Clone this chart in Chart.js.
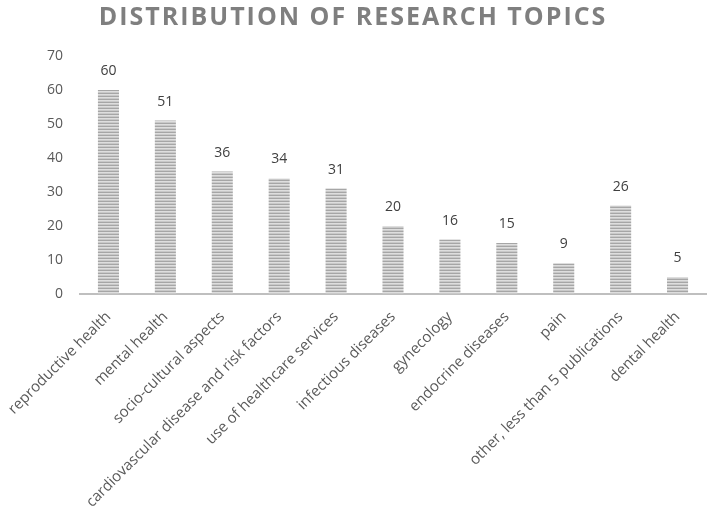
<!DOCTYPE html>
<html>
<head>
<meta charset="utf-8">
<script src="https://cdn.jsdelivr.net/npm/chart.js@4/dist/chart.umd.min.js"></script>
<style>
  html, body { margin: 0; padding: 0; background: #ffffff; }
  #wrap { width: 709px; height: 518px; }
</style>
</head>
<body>
<div id="wrap"><canvas id="c" width="709" height="518"></canvas></div>
<script>
const categories = [
  "reproductive health",
  "mental health",
  "socio-cultural aspects",
  "cardiovascular disease and risk factors",
  "use of healthcare services",
  "infectious diseases",
  "gynecology",
  "endocrine diseases",
  "pain",
  "other, less than 5 publications",
  "dental health"
];
const counts = [60, 51, 36, 34, 31, 20, 16, 15, 9, 26, 5];
const yTicks = [0, 10, 20, 30, 40, 50, 60, 70];
const titleText = "DISTRIBUTION OF RESEARCH TOPICS";

// striped fill pattern
function makeStripes() {
  const p = document.createElement('canvas');
  p.width = 4; p.height = 3;
  const g = p.getContext('2d');
  g.fillStyle = '#dedede'; g.fillRect(0, 0, 4, 3);
  g.fillStyle = '#a6a6a6'; g.fillRect(0, 0, 4, 1);
  g.fillStyle = '#c9c9c9'; g.fillRect(0, 2, 4, 1);
  return g.createPattern(p, 'repeat');
}

const valueLabels = {
  id: 'valueLabels',
  afterDatasetsDraw(chart) {
    const ctx = chart.ctx;
    const meta = chart.getDatasetMeta(0);
    ctx.save();
    ctx.font = '14px "Open Sans"';
    ctx.fillStyle = '#404040';
    ctx.textAlign = 'center';
    ctx.textBaseline = 'middle';
    meta.data.forEach((bar, i) => {
      ctx.fillText(String(chart.data.datasets[0].data[i]), bar.x, bar.y - 19);
    });
    ctx.restore();
  }
};

const titleSpacing = {
  id: 'titleSpacing',
  afterInit(chart) {
    const tb = chart.titleBlock;
    if (tb && !tb._wrapped) {
      const orig = tb.draw;
      tb.draw = function() {
        const ctx = this.ctx;
        ctx.save();
        ctx.letterSpacing = '2px';
        orig.apply(this, arguments);
        ctx.restore();
      };
      tb._wrapped = true;
    }
  }
};

const ctx = document.getElementById('c').getContext('2d');
new Chart(ctx, {
  type: 'bar',
  data: {
    labels: categories,
    datasets: [{
      data: counts,
      backgroundColor: makeStripes(),
      borderWidth: 0,
      barPercentage: 0.37,
      categoryPercentage: 1.0
    }]
  },
  options: {
    responsive: false,
    animation: false,
    layout: { padding: { left: 0, right: 3, top: 0, bottom: 0 } },
    plugins: {
      legend: { display: false },
      tooltip: { enabled: false },
      title: {
        display: true,
        text: titleText,
        color: '#7f7f7f',
        font: { family: '"Open Sans"', size: 25, weight: 'bold' },
        padding: { top: 3, bottom: 23 }
      }
    },
    scales: {
      x: {
        afterFit(scale) {
          scale.height = 224;
          scale.paddingLeft = 0;
          scale.paddingRight = 0;
        },
        grid: { display: false, drawTicks: false },
        border: { display: true, color: '#bfbfbf', width: 2 },
        ticks: {
          color: '#595959',
          font: { family: '"Open Sans"', size: 15 },
          maxRotation: 45,
          minRotation: 45,
          autoSkip: false,
          padding: 14
        }
      },
      y: {
        min: 0,
        max: 70,
        afterFit(scale) { scale.width = 80; },
        afterBuildTicks(scale) { scale.ticks = yTicks.map(v => ({ value: v })); },
        grid: { display: false, drawTicks: false },
        border: { display: false },
        ticks: {
          color: '#595959',
          font: { family: '"Open Sans"', size: 14 },
          padding: 17
        }
      }
    }
  },
  plugins: [valueLabels, titleSpacing]
});
</script>
</body>
</html>
